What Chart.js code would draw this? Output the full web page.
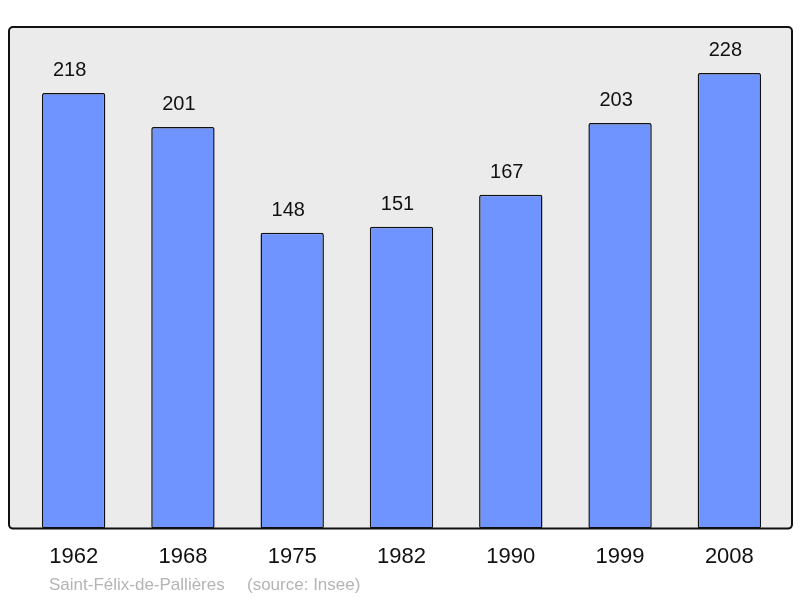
<!DOCTYPE html>
<html>
<head>
<meta charset="utf-8">
<script src="https://cdn.jsdelivr.net/npm/chart.js@4/dist/chart.umd.min.js"></script>
<style>
  html, body { margin: 0; padding: 0; background: #fff; }
  #wrap { width: 800px; height: 598px; }
</style>
</head>
<body>
<div id="wrap"><canvas id="chart"></canvas></div>
<script>
const annees = ['1962', '1968', '1975', '1982', '1990', '1999', '2008'];
const population = [218, 201, 148, 151, 167, 203, 228];
const commune = 'Saint-Félix-de-Pallières';
const source = '(source: Insee)';

// fond gris + cadre noir, etiquettes au-dessus des barres, pied de page
const decor = {
  id: 'decor',
  beforeDatasetsDraw(chart) {
    const { ctx, chartArea: a } = chart;
    const x = a.left - 10, y = a.top, w = a.right + 8 - x, h = a.bottom - a.top;
    ctx.save();
    ctx.beginPath();
    ctx.roundRect(x, y, w, h, 4);
    ctx.fillStyle = '#ebebeb';
    ctx.fill();
    ctx.restore();
  },
  afterDatasetsDraw(chart) {
    const { ctx, chartArea: a } = chart;
    const x = a.left - 10, y = a.top, w = a.right + 8 - x, h = a.bottom - a.top;
    ctx.save();
    ctx.beginPath();
    ctx.roundRect(x, y, w, h, 4);
    ctx.lineWidth = 2;
    ctx.strokeStyle = '#111';
    ctx.stroke();

    const meta = chart.getDatasetMeta(0);
    ctx.fillStyle = '#111';
    ctx.font = '20px "Liberation Sans", Arial, sans-serif';
    ctx.textAlign = 'center';
    ctx.textBaseline = 'middle';
    meta.data.forEach((bar, i) => {
      ctx.fillText(String(population[i]), bar.x - 4, bar.y - 22);
    });

    ctx.fillStyle = '#b4b4b4';
    ctx.font = '17px "Liberation Sans", Arial, sans-serif';
    ctx.textAlign = 'left';
    ctx.fillText(commune, 49, 585);
    ctx.fillText(source, 247, 585);
    ctx.restore();
  }
};

new Chart(document.getElementById('chart'), {
  type: 'bar',
  data: {
    labels: annees,
    datasets: [{
      data: population,
      backgroundColor: '#7094ff',
      borderColor: '#111',
      borderWidth: 1.5,
      borderSkipped: false,
      borderRadius: 2,
      barPercentage: 0.58,
      categoryPercentage: 1
    }]
  },
  options: {
    responsive: true,
    maintainAspectRatio: false,
    animation: false,
    layout: { padding: { left: 19, right: 16, top: 27, bottom: 13 } },
    plugins: {
      legend: { display: false },
      tooltip: { enabled: false }
    },
    scales: {
      x: {
        grid: { display: false, drawTicks: false },
        border: { display: false },
        ticks: {
          color: '#111',
          padding: 15,
          font: { size: 22, family: '"Liberation Sans", Arial, sans-serif' }
        }
      },
      y: {
        display: false,
        min: 0,
        max: 251
      }
    }
  },
  plugins: [decor]
});
</script>
</body>
</html>
